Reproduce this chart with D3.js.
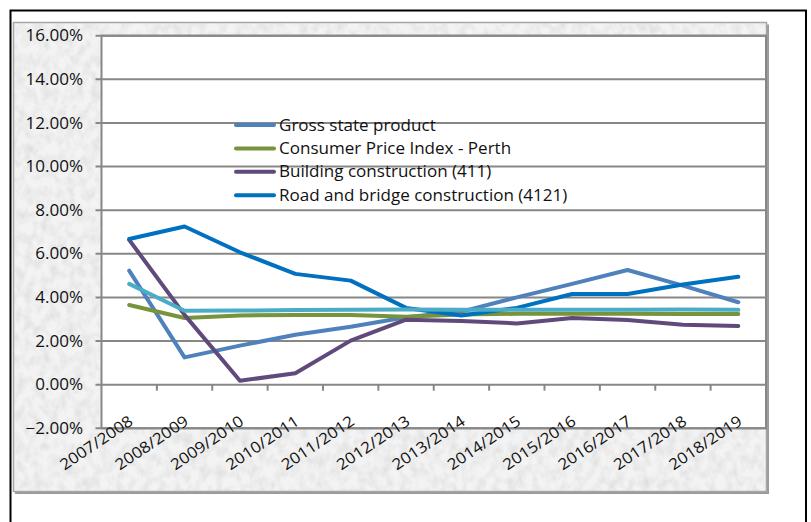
<!DOCTYPE html>
<html>
<head>
<meta charset="utf-8">
<script src="https://cdn.jsdelivr.net/npm/d3@7"></script>
<style>
  html, body { margin: 0; padding: 0; background: #ffffff; }
  svg { display: block; }
  text { font-family: "Open Sans", sans-serif; fill: #111; }
</style>
</head>
<body>
<svg id="chart" width="811" height="522"></svg>
<script>
// ---- data ----
const categories = ["2007/2008","2008/2009","2009/2010","2010/2011","2011/2012","2012/2013",
                    "2013/2014","2014/2015","2015/2016","2016/2017","2017/2018","2018/2019"];
const yTicks = [-0.02, 0, 0.02, 0.04, 0.06, 0.08, 0.10, 0.12, 0.14, 0.16];

const grossStateProduct   = [5.23, 1.25, 1.79, 2.29, 2.66, 3.09, 3.35, 4.00, 4.62, 5.26, 4.54, 3.78];
const cpiPerth            = [3.65, 3.06, 3.17, 3.20, 3.20, 3.12, 3.22, 3.25, 3.25, 3.25, 3.24, 3.24];
const buildingConstruction= [6.64, 3.20, 0.18, 0.52, 2.02, 2.98, 2.92, 2.81, 3.06, 2.97, 2.75, 2.69];
const roadBridge          = [6.68, 7.25, 6.07, 5.08, 4.77, 3.52, 3.17, 3.52, 4.16, 4.16, 4.59, 4.95];
const unlabelledSeries    = [4.62, 3.39, 3.40, 3.42, 3.43, 3.45, 3.43, 3.43, 3.43, 3.43, 3.45, 3.43];

const seriesNames  = ["Gross state product", "Consumer Price Index - Perth",
                      "Building construction (411)", "Road and bridge construction (4121)", ""];
const seriesValues = [grossStateProduct, cpiPerth, buildingConstruction, roadBridge, unlabelledSeries];
const seriesColors = ["#4F81BD", "#77933C", "#604A7B", "#0070C0", "#4BACC6"];
const legendCount = 4;

// ---- layout ----
const svg = d3.select("#chart");
const plot = { left: 101.5, right: 766, top: 35.7, bottom: 428.3 };
const stretch = 1.1;

const defs = svg.append("defs");
const f = defs.append("filter").attr("id", "paper").attr("x", 0).attr("y", 0).attr("width", 1).attr("height", 1);
f.append("feTurbulence").attr("type", "fractalNoise").attr("baseFrequency", "0.12 0.09")
  .attr("numOctaves", 3).attr("seed", 7).attr("result", "n");
f.append("feColorMatrix").attr("in", "n").attr("type", "matrix")
  .attr("values", "0 0 0 0 0.6  0 0 0 0 0.6  0 0 0 0 0.6  0.9 0 0 0 -0.33");

// outer black frame
svg.append("rect").attr("x", 10.5).attr("y", 10.5).attr("width", 795.5).attr("height", 530)
  .attr("fill", "#fff").attr("stroke", "#000").attr("stroke-width", 2);

// textured panel with shadow
svg.append("rect").attr("x", 15).attr("y", 24.5).attr("width", 754).attr("height", 469.5).attr("fill", "#9a9a9a");
svg.append("rect").attr("x", 13.5).attr("y", 22.5).attr("width", 753).attr("height", 469)
  .attr("fill", "#f3f3f3").attr("stroke", "#a6a6a6").attr("stroke-width", 1.5);
svg.append("rect").attr("x", 14.5).attr("y", 23.5).attr("width", 751).attr("height", 467)
  .attr("filter", "url(#paper)");

// plot area
svg.append("rect").attr("x", plot.left).attr("y", plot.top)
  .attr("width", plot.right - plot.left).attr("height", plot.bottom - plot.top)
  .attr("fill", "#fff");

const x = d3.scaleBand().domain(categories).range([plot.left, plot.right]);
const y = d3.scaleLinear().domain([-0.02, 0.16]).range([plot.bottom, plot.top]);
const cx = c => x(c) + x.bandwidth() / 2;

// gridlines
svg.append("g").selectAll("line").data(yTicks).join("line")
  .attr("x1", plot.left - 6).attr("x2", plot.right)
  .attr("y1", d => y(d)).attr("y2", d => y(d))
  .attr("stroke", "#878787").attr("stroke-width", 2);

// plot border
svg.append("rect").attr("x", plot.left).attr("y", plot.top)
  .attr("width", plot.right - plot.left).attr("height", plot.bottom - plot.top)
  .attr("fill", "none").attr("stroke", "#878787").attr("stroke-width", 2);

// y axis labels
const fmt = d3.format(".2%");
svg.append("g").selectAll("text").data(yTicks).join("text")
  .attr("transform", d => `translate(83,${y(d)}) scale(${stretch},1)`)
  .attr("text-anchor", "end").attr("dy", "0.36em")
  .style("font-size", "15.5px")
  .text(d => fmt(d));

// x axis at 0 with ticks at category boundaries
const y0 = y(0);
svg.append("g").selectAll("line").data(categories.slice(1)).join("line")
  .attr("x1", d => x(d)).attr("x2", d => x(d))
  .attr("y1", y0).attr("y2", y0 + 6)
  .attr("stroke", "#878787").attr("stroke-width", 2);

svg.append("g").selectAll("text").data(categories).join("text")
  .attr("transform", d => `translate(${cx(d) + 5},${y0 + 39}) rotate(-34) scale(${stretch},1)`)
  .attr("text-anchor", "end")
  .style("font-size", "15.5px")
  .text(d => d);

// lines
const line = d3.line().x((d, i) => cx(categories[i])).y(d => y(d / 100));
const order = [0, 1, 2, 3, 4];
svg.append("g").selectAll("path").data(order).join("path")
  .attr("d", i => line(seriesValues[i]))
  .attr("fill", "none")
  .attr("stroke", i => seriesColors[i])
  .attr("stroke-width", 4)
  .attr("stroke-linejoin", "round")
  .attr("stroke-linecap", "round");

// legend
const lg = svg.append("g");
const legendItems = d3.range(legendCount);
lg.selectAll("line").data(legendItems).join("line")
  .attr("x1", 236).attr("x2", 274)
  .attr("y1", i => 125 + i * 23.4).attr("y2", i => 125 + i * 23.4)
  .attr("stroke", i => seriesColors[i]).attr("stroke-width", 4).attr("stroke-linecap", "round");
lg.selectAll("text").data(legendItems).join("text")
  .attr("transform", i => `translate(279,${125 + i * 23.4}) scale(${stretch},1)`)
  .attr("dy", "0.36em")
  .style("font-size", "15.5px")
  .text(i => seriesNames[i]);
</script>
</body>
</html>
